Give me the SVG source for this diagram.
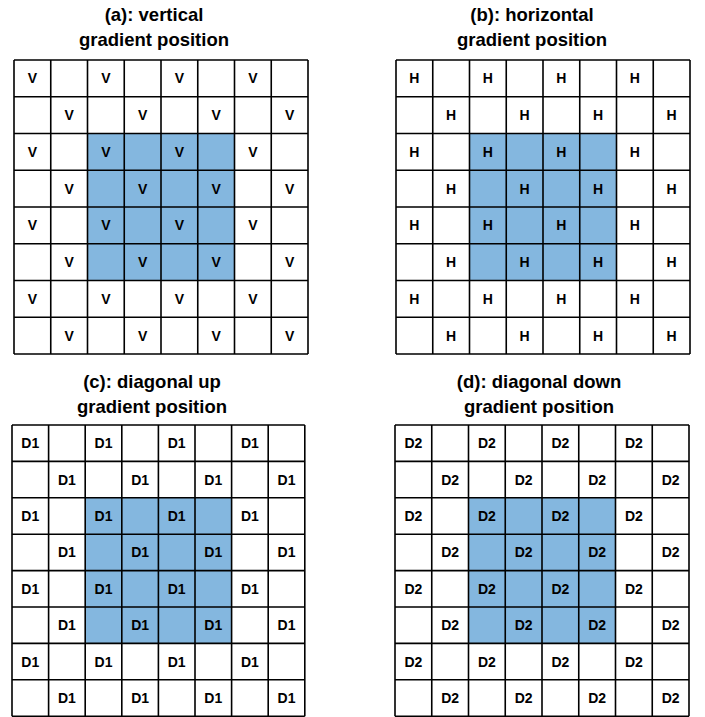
<svg xmlns="http://www.w3.org/2000/svg" width="705" height="717" viewBox="0 0 705 717">
<style>
.bg{fill:#ffffff}
.hl{fill:#84B7DF}
.grid{fill:none;stroke:#000;stroke-width:1.6}
.title{font-family:"Liberation Sans",Arial,sans-serif;font-weight:bold;font-size:18.5px;fill:#000;text-anchor:middle}
.lbl{font-family:"Liberation Sans",Arial,sans-serif;font-weight:bold;font-size:14px;fill:#000;text-anchor:middle}
</style>
<rect class="bg" x="0" y="0" width="705" height="717"/>

<g id="panel-a">
<text class="title" x="154" y="21">(a): vertical</text>
<text class="title" x="154" y="46">gradient position</text>
<rect class="hl" x="87.5" y="133.5" width="147" height="147"/>
<path class="grid" d="M14 60H308M14 96.75H308M14 133.5H308M14 170.25H308M14 207H308M14 243.75H308M14 280.5H308M14 317.25H308M14 354H308M14 60V354M50.75 60V354M87.5 60V354M124.25 60V354M161 60V354M197.75 60V354M234.5 60V354M271.25 60V354M308 60V354"/>
<g class="lbl">
<text x="32.4" y="83.4">V</text><text x="105.9" y="83.4">V</text><text x="179.4" y="83.4">V</text><text x="252.9" y="83.4">V</text>
<text x="69.1" y="120.1">V</text><text x="142.6" y="120.1">V</text><text x="216.1" y="120.1">V</text><text x="289.6" y="120.1">V</text>
<text x="32.4" y="156.9">V</text><text x="105.9" y="156.9">V</text><text x="179.4" y="156.9">V</text><text x="252.9" y="156.9">V</text>
<text x="69.1" y="193.6">V</text><text x="142.6" y="193.6">V</text><text x="216.1" y="193.6">V</text><text x="289.6" y="193.6">V</text>
<text x="32.4" y="230.4">V</text><text x="105.9" y="230.4">V</text><text x="179.4" y="230.4">V</text><text x="252.9" y="230.4">V</text>
<text x="69.1" y="267.1">V</text><text x="142.6" y="267.1">V</text><text x="216.1" y="267.1">V</text><text x="289.6" y="267.1">V</text>
<text x="32.4" y="303.9">V</text><text x="105.9" y="303.9">V</text><text x="179.4" y="303.9">V</text><text x="252.9" y="303.9">V</text>
<text x="69.1" y="340.6">V</text><text x="142.6" y="340.6">V</text><text x="216.1" y="340.6">V</text><text x="289.6" y="340.6">V</text>
</g>
</g>

<g id="panel-b">
<text class="title" x="532" y="21">(b): horizontal</text>
<text class="title" x="532" y="46">gradient position</text>
<rect class="hl" x="469.5" y="133.5" width="147" height="147"/>
<path class="grid" d="M396 60H690M396 96.75H690M396 133.5H690M396 170.25H690M396 207H690M396 243.75H690M396 280.5H690M396 317.25H690M396 354H690M396 60V354M432.75 60V354M469.5 60V354M506.25 60V354M543 60V354M579.75 60V354M616.5 60V354M653.25 60V354M690 60V354"/>
<g class="lbl">
<text x="414.4" y="83.4">H</text><text x="487.9" y="83.4">H</text><text x="561.4" y="83.4">H</text><text x="634.9" y="83.4">H</text>
<text x="451.1" y="120.1">H</text><text x="524.6" y="120.1">H</text><text x="598.1" y="120.1">H</text><text x="671.6" y="120.1">H</text>
<text x="414.4" y="156.9">H</text><text x="487.9" y="156.9">H</text><text x="561.4" y="156.9">H</text><text x="634.9" y="156.9">H</text>
<text x="451.1" y="193.6">H</text><text x="524.6" y="193.6">H</text><text x="598.1" y="193.6">H</text><text x="671.6" y="193.6">H</text>
<text x="414.4" y="230.4">H</text><text x="487.9" y="230.4">H</text><text x="561.4" y="230.4">H</text><text x="634.9" y="230.4">H</text>
<text x="451.1" y="267.1">H</text><text x="524.6" y="267.1">H</text><text x="598.1" y="267.1">H</text><text x="671.6" y="267.1">H</text>
<text x="414.4" y="303.9">H</text><text x="487.9" y="303.9">H</text><text x="561.4" y="303.9">H</text><text x="634.9" y="303.9">H</text>
<text x="451.1" y="340.6">H</text><text x="524.6" y="340.6">H</text><text x="598.1" y="340.6">H</text><text x="671.6" y="340.6">H</text>
</g>
</g>

<g id="panel-c">
<text class="title" x="152" y="388">(c): diagonal up</text>
<text class="title" x="152" y="413">gradient position</text>
<rect class="hl" x="85.2" y="497.8" width="146.4" height="145.6"/>
<path class="grid" d="M12 425H304.8M12 461.4H304.8M12 497.8H304.8M12 534.2H304.8M12 570.6H304.8M12 607H304.8M12 643.4H304.8M12 679.8H304.8M12 716.2H304.8M12 425V716.2M48.6 425V716.2M85.2 425V716.2M121.8 425V716.2M158.4 425V716.2M195 425V716.2M231.6 425V716.2M268.2 425V716.2M304.8 425V716.2"/>
<g class="lbl">
<text x="30.3" y="448.2">D1</text><text x="103.5" y="448.2">D1</text><text x="176.7" y="448.2">D1</text><text x="249.9" y="448.2">D1</text>
<text x="66.9" y="484.6">D1</text><text x="140.1" y="484.6">D1</text><text x="213.3" y="484.6">D1</text><text x="286.5" y="484.6">D1</text>
<text x="30.3" y="521">D1</text><text x="103.5" y="521">D1</text><text x="176.7" y="521">D1</text><text x="249.9" y="521">D1</text>
<text x="66.9" y="557.4">D1</text><text x="140.1" y="557.4">D1</text><text x="213.3" y="557.4">D1</text><text x="286.5" y="557.4">D1</text>
<text x="30.3" y="593.8">D1</text><text x="103.5" y="593.8">D1</text><text x="176.7" y="593.8">D1</text><text x="249.9" y="593.8">D1</text>
<text x="66.9" y="630.2">D1</text><text x="140.1" y="630.2">D1</text><text x="213.3" y="630.2">D1</text><text x="286.5" y="630.2">D1</text>
<text x="30.3" y="666.6">D1</text><text x="103.5" y="666.6">D1</text><text x="176.7" y="666.6">D1</text><text x="249.9" y="666.6">D1</text>
<text x="66.9" y="703">D1</text><text x="140.1" y="703">D1</text><text x="213.3" y="703">D1</text><text x="286.5" y="703">D1</text>
</g>
</g>

<g id="panel-d">
<text class="title" x="539" y="388">(d): diagonal down</text>
<text class="title" x="539" y="413">gradient position</text>
<rect class="hl" x="468.5" y="497.8" width="147" height="145.6"/>
<path class="grid" d="M395 425H689M395 461.4H689M395 497.8H689M395 534.2H689M395 570.6H689M395 607H689M395 643.4H689M395 679.8H689M395 716.2H689M395 425V716.2M431.75 425V716.2M468.5 425V716.2M505.25 425V716.2M542 425V716.2M578.75 425V716.2M615.5 425V716.2M652.25 425V716.2M689 425V716.2"/>
<g class="lbl">
<text x="413.4" y="448.2">D2</text><text x="486.9" y="448.2">D2</text><text x="560.4" y="448.2">D2</text><text x="633.9" y="448.2">D2</text>
<text x="450.1" y="484.6">D2</text><text x="523.6" y="484.6">D2</text><text x="597.1" y="484.6">D2</text><text x="670.6" y="484.6">D2</text>
<text x="413.4" y="521">D2</text><text x="486.9" y="521">D2</text><text x="560.4" y="521">D2</text><text x="633.9" y="521">D2</text>
<text x="450.1" y="557.4">D2</text><text x="523.6" y="557.4">D2</text><text x="597.1" y="557.4">D2</text><text x="670.6" y="557.4">D2</text>
<text x="413.4" y="593.8">D2</text><text x="486.9" y="593.8">D2</text><text x="560.4" y="593.8">D2</text><text x="633.9" y="593.8">D2</text>
<text x="450.1" y="630.2">D2</text><text x="523.6" y="630.2">D2</text><text x="597.1" y="630.2">D2</text><text x="670.6" y="630.2">D2</text>
<text x="413.4" y="666.6">D2</text><text x="486.9" y="666.6">D2</text><text x="560.4" y="666.6">D2</text><text x="633.9" y="666.6">D2</text>
<text x="450.1" y="703">D2</text><text x="523.6" y="703">D2</text><text x="597.1" y="703">D2</text><text x="670.6" y="703">D2</text>
</g>
</g>
</svg>
